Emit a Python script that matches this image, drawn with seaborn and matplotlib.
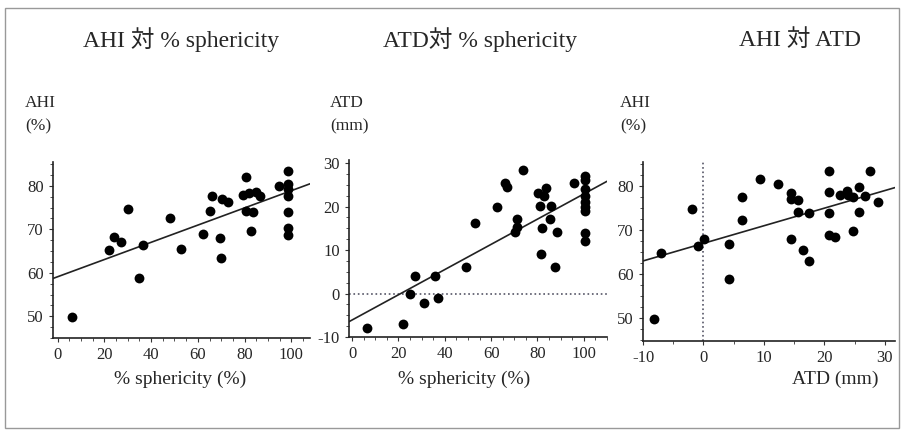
import numpy as np
import pandas as pd
import matplotlib
matplotlib.use('Agg')
import matplotlib.pyplot as plt
import seaborn as sns
from matplotlib.patches import Rectangle
from matplotlib.ticker import MultipleLocator

# panel 1: AHI vs % sphericity
sph1 = [6, 22, 24, 27, 30, 36.5, 35, 48, 52.6, 62, 65.4, 66, 69.6, 70, 70.5, 73,
        80.4, 79.3, 82.1, 84.7, 86.4, 80.7, 83.8, 82.7,
        94.9, 98.6, 98.6, 98.6, 98.6, 98.6, 98.6, 98.6]
ahi1 = [49.8, 65.2, 68.2, 67, 74.6, 66.5, 58.8, 72.5, 65.5, 69, 74.3, 77.7, 68, 63.3, 77, 76.4,
        82, 78, 78.3, 78.6, 77.7, 74.2, 73.9, 69.7,
        79.9, 83.5, 80.5, 79.2, 77.7, 74.1, 70.2, 68.8]
fit1 = (59.1, 0.198)  # intercept, slope

# panel 2: ATD vs % sphericity
sph2 = [6.3, 22, 25, 27, 31, 36, 37, 49, 53, 62.6, 65.8, 67, 71, 71.3, 70.1, 73.7,
        80.2, 82.8, 83.7, 81, 85.7, 82.1, 85.3, 88.3, 81.7, 87.7, 95.8,
        100.4, 100.4, 100.4, 100.4, 100.4, 100.4, 100.4, 100.4, 100.4]
atd2 = [-8, -7, 0, 4, -2.2, 4, -1.1, 6.1, 16.2, 20, 25.4, 24.4, 17.2, 15.2, 14.1, 28.3,
        23.1, 22.5, 24.3, 20.1, 20.1, 15, 17.2, 14.1, 9, 6.1, 25.4,
        27, 26, 24, 22.5, 21, 20, 19, 14, 12]
fit2 = (-6.1, 0.29)

# panel 3: AHI vs ATD
atd3 = [-8.1, -7.1, -1.9, -0.9, 0.05, 4.2, 4.2, 6.3, 6.3, 9.4, 12.4, 14.5, 14.5, 15.6, 15.6,
        14.5, 16.5, 17.5, 17.5, 20.7, 20.7, 20.7, 20.7, 21.7, 22.6, 23.7, 23.9, 24.8, 24.8,
        25.8, 25.8, 26.7, 27.6, 28.9]
ahi3 = [49.8, 64.9, 74.7, 66.5, 68, 66.8, 58.8, 77.6, 72.4, 81.7, 80.5, 78.4, 77, 76.8, 74.2,
        68, 65.4, 63.1, 73.8, 83.4, 78.6, 74, 69, 68.5, 78, 78.9, 77.9, 77.5, 69.8,
        79.8, 74.2, 77.7, 83.4, 76.4]
fit3 = (67.0, 0.40)

titles = ['AHI 対 % sphericity', 'ATD対 % sphericity', 'AHI 対 ATD']
ylabels = ['AHI\n(%)', 'ATD\n(mm)', 'AHI\n(%)']
xlabels = ['% sphericity (%)', '% sphericity (%)', 'ATD (mm)']

sns.set_style('ticks')
fam = ['Liberation Serif', 'Noto Sans CJK JP']
plt.rcParams['font.family'] = fam
plt.rcParams['axes.unicode_minus'] = False

fig = plt.figure(figsize=(9.05, 4.32), dpi=100)
W, H = 905, 432


def add_ax(l, r, t, b):
    return fig.add_axes([l / W, 1 - b / H, (r - l) / W, (b - t) / H])


ax1 = add_ax(53, 310, 162, 338)
ax2 = add_ax(349, 607, 160, 337)
ax3 = add_ax(643, 895, 162, 341)

panels = [
    (ax1, sph1, ahi1, fit1, (-2, 108), (45, 85.5), 20, 5, 10, 2.5),
    (ax2, sph2, atd2, fit2, (-1.3, 110), (-10, 30.7), 20, 5, 10, 2.5),
    (ax3, atd3, ahi3, fit3, (-10, 31.7), (44.8, 85.5), 10, 5, 10, 2.5),
]

for ax, xs, ys, fit, xl, yl, xmaj, xmin, ymaj, ymin in panels:
    df = pd.DataFrame({'x': xs, 'y': ys})
    sns.scatterplot(data=df, x='x', y='y', ax=ax, color='black', s=50,
                    edgecolor='black', linewidth=0, zorder=3)
    ax.axline((0, fit[0]), slope=fit[1], color='#222222', lw=1.2, zorder=2)
    ax.set_xlim(*xl)
    ax.set_ylim(*yl)
    ax.xaxis.set_major_locator(MultipleLocator(xmaj))
    ax.xaxis.set_minor_locator(MultipleLocator(xmin))
    ax.yaxis.set_major_locator(MultipleLocator(ymaj))
    ax.yaxis.set_minor_locator(MultipleLocator(ymin))
    ax.tick_params(which='both', direction='out', labelsize=12, color='#333333')
    ax.tick_params(which='major', length=3)
    ax.tick_params(which='minor', length=2)
    ax.set_xlabel('')
    ax.set_ylabel('')
    for s in ['top', 'right']:
        ax.spines[s].set_visible(False)
    for s in ['left', 'bottom']:
        ax.spines[s].set_color('#222222')
        ax.spines[s].set_linewidth(1.2)

ax2.axhline(0, color='#555566', ls=':', lw=1.2, zorder=1)
ax3.axvline(0, color='#555566', ls=':', lw=1.2, zorder=1)

for x, t in zip([181, 480, 800], titles):
    fig.text(x / W, 1 - 40 / H, t, ha='center', va='center', fontsize=17, family=fam)

for x, t in zip([25, 330, 620], ylabels):
    fig.text(x / W, 1 - 115 / H, t, ha='left', va='center', fontsize=12.5,
             linespacing=1.6, family=fam)

for x, t in zip([180, 464, 835], xlabels):
    fig.text(x / W, 1 - 379 / H, t, ha='center', va='center', fontsize=14, family=fam)

fig.patches.append(Rectangle((5 / W, 4 / H), 894 / W, 420 / H, transform=fig.transFigure,
                             fill=False, edgecolor='#999999', lw=1))

fig.savefig('out.png', dpi=100)
